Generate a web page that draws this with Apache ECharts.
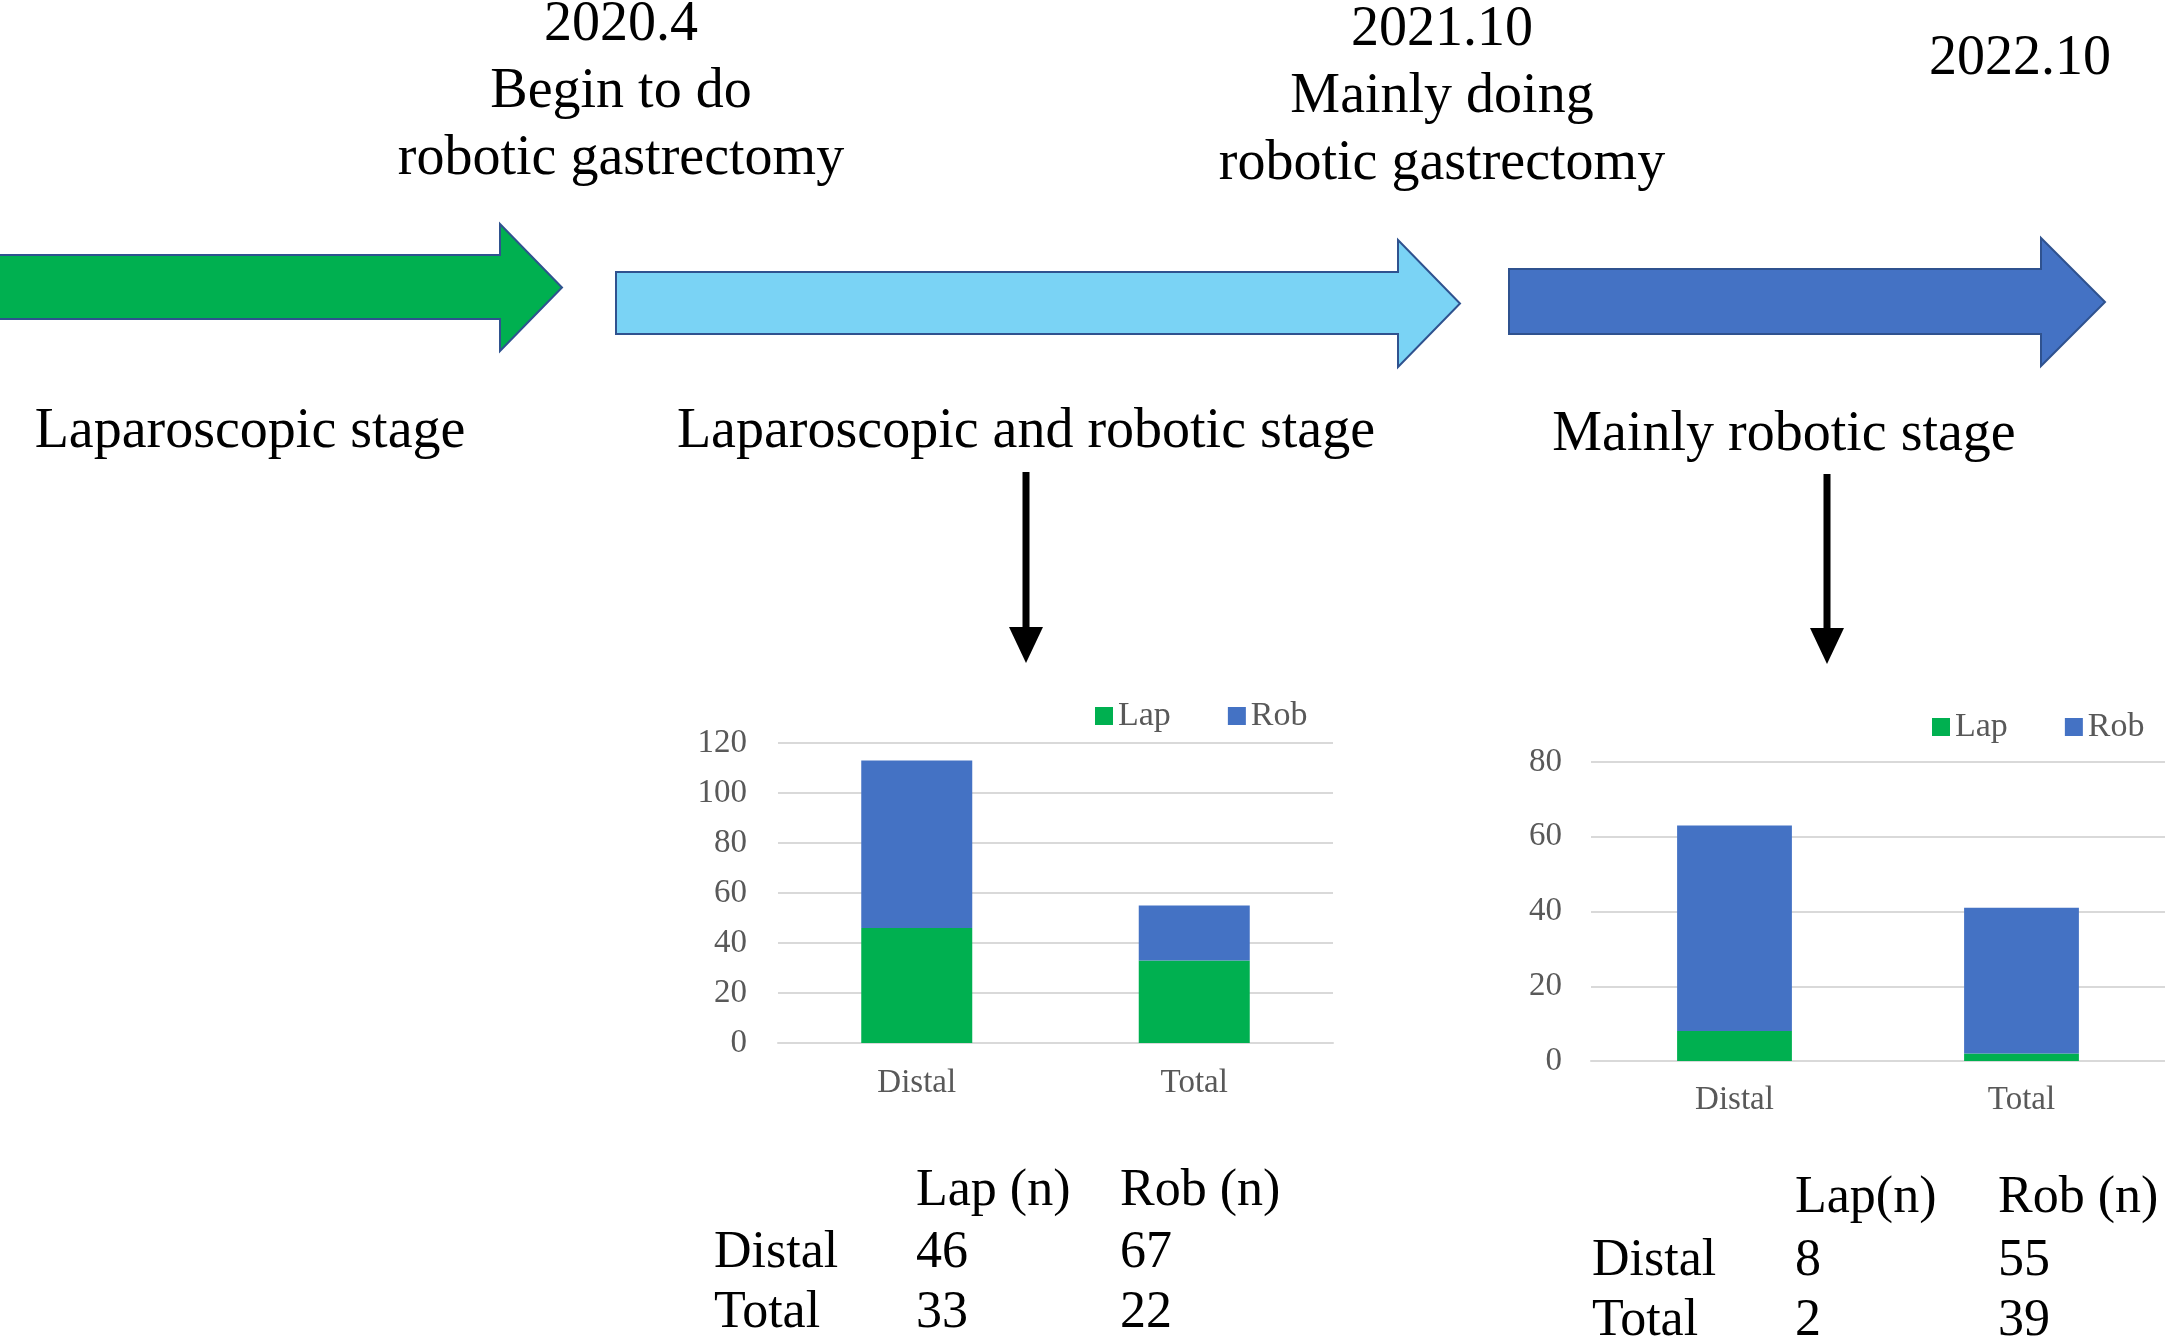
<!DOCTYPE html>
<html>
<head>
<meta charset="utf-8">
<script src="https://cdn.jsdelivr.net/npm/echarts@6/dist/echarts.min.js"></script>
<style>
html,body{margin:0;padding:0;background:#fff;}
#chart{width:2165px;height:1337px;}
</style>
</head>
<body>
<div id="chart"></div>
<script>
// ---- data ----
var categories = ['Distal', 'Total'];
var stage2Lap = [46, 33];
var stage2Rob = [67, 22];
var stage3Lap = [8, 2];
var stage3Rob = [55, 39];
var seriesNames = ['Lap', 'Rob'];
var stage2Axis = {min: 0, max: 120, interval: 20};
var stage3Axis = {min: 0, max: 80, interval: 20};
var stage2Headers = ['Lap (n)', 'Rob (n)'];
var stage3Headers = ['Lap(n)', 'Rob (n)'];
var milestones = [
  ['2020.4', 'Begin to do', 'robotic gastrectomy'],
  ['2021.10', 'Mainly doing', 'robotic gastrectomy'],
  ['2022.10']
];
var stageLabels = ['Laparoscopic stage', 'Laparoscopic and robotic stage', 'Mainly robotic stage'];

// ---- styles ----
var FONT = '"Liberation Serif", "Times New Roman", serif';
var GREEN = '#00B050', BLUE = '#4472C4', LIGHT = '#7AD3F5', EDGE = '#2F528F';
var GRAY_TXT = '#595959', GRID = '#D9D9D9';

var chart = echarts.init(document.getElementById('chart'), null, {renderer: 'canvas'});

function txt(s, x, y, size, align, color) {
  return {type: 'text', x: x, y: y, style: {text: s, fontSize: size, fontFamily: FONT, fill: color || '#000', align: align || 'center', verticalAlign: 'middle'}};
}
function bigArrow(x0, x1, sy0, sy1, hy0, hy1, tip, fill) {
  var cy = (hy0 + hy1) / 2;
  return {type: 'polygon', shape: {points: [[x0, sy0], [x1, sy0], [x1, hy0], [tip, cy], [x1, hy1], [x1, sy1], [x0, sy1]]},
    style: {fill: fill, stroke: EDGE, lineWidth: 2}};
}
function downArrow(x, y0, y1) {
  return [
    {type: 'line', shape: {x1: x, y1: y0, x2: x, y2: y1 - 30}, style: {stroke: '#000', lineWidth: 7}},
    {type: 'polygon', shape: {points: [[x - 17, y1 - 36], [x + 17, y1 - 36], [x, y1]]}, style: {fill: '#000'}}
  ];
}

var graphics = [];
// timeline arrows
graphics.push(bigArrow(-5, 500, 255, 319, 224, 351, 562, GREEN));
graphics.push(bigArrow(616, 1398, 272, 334, 240, 367, 1460, LIGHT));
graphics.push(bigArrow(1509, 2041, 269, 334, 238, 366, 2105, BLUE));
// milestone texts
var msPos = [[621, [25, 92, 159]], [1442, [30, 97, 164]], [2020, [59]]];
milestones.forEach(function (lines, i) {
  lines.forEach(function (l, j) { graphics.push(txt(l, msPos[i][0], msPos[i][1][j], 56)); });
});
// stage labels
var stPos = [[250, 432], [1026, 432], [1784, 435]];
stageLabels.forEach(function (s, i) { graphics.push(txt(s, stPos[i][0], stPos[i][1], 56)); });
// down arrows
graphics = graphics.concat(downArrow(1026, 472, 663));
graphics = graphics.concat(downArrow(1827, 474, 664));

// tables
function table(headers, lap, rob, xs, ys) {
  graphics.push(txt(headers[0], xs[1], ys[0], 52, 'left'));
  graphics.push(txt(headers[1], xs[2], ys[0], 52, 'left'));
  categories.forEach(function (c, i) {
    graphics.push(txt(c, xs[0], ys[i + 1], 52, 'left'));
    graphics.push(txt(String(lap[i]), xs[1], ys[i + 1], 52, 'left'));
    graphics.push(txt(String(rob[i]), xs[2], ys[i + 1], 52, 'left'));
  });
}
table(stage2Headers, stage2Lap, stage2Rob, [714, 916, 1120], [1191, 1253, 1313]);
table(stage3Headers, stage3Lap, stage3Rob, [1592, 1795, 1998], [1198, 1261, 1321]);

function xAxis(gi, margin) {
  return {type: 'category', gridIndex: gi, data: categories,
    axisLine: {lineStyle: {color: GRID, width: 2}}, axisTick: {show: false},
    axisLabel: {color: GRAY_TXT, fontFamily: FONT, fontSize: 33, margin: margin}};
}
function yAxis(gi, ax, margin) {
  return {type: 'value', gridIndex: gi, min: ax.min, max: ax.max, interval: ax.interval,
    axisLine: {show: false}, axisTick: {show: false},
    splitLine: {lineStyle: {color: GRID, width: 2}},
    axisLabel: {color: GRAY_TXT, fontFamily: FONT, fontSize: 33, margin: margin}};
}
function bar(name, data, gi, color) {
  return {type: 'bar', name: name, data: data, stack: 's' + gi, xAxisIndex: gi, yAxisIndex: gi,
    barWidth: '40%', itemStyle: {color: color}, emphasis: {disabled: true}};
}

var option = {
  animation: false,
  backgroundColor: '#fff',
  textStyle: {fontFamily: FONT},
  legend: [
    {data: seriesNames, left: 1090, top: 694, itemWidth: 18, itemHeight: 18, itemGap: 57, icon: 'rect',
      textStyle: {fontFamily: FONT, fontSize: 34, color: GRAY_TXT}},
    {data: seriesNames, left: 1927, top: 705, itemWidth: 18, itemHeight: 18, itemGap: 57, icon: 'rect',
      textStyle: {fontFamily: FONT, fontSize: 34, color: GRAY_TXT}}
  ],
  grid: [
    {left: 778, right: 832, top: 743, bottom: 294, containLabel: false},
    {left: 1591, right: 0, top: 762, bottom: 276, containLabel: false}
  ],
  xAxis: [xAxis(0, 24), xAxis(1, 23)],
  yAxis: [yAxis(0, stage2Axis, 31), yAxis(1, stage3Axis, 29)],
  series: [
    bar(seriesNames[0], stage2Lap, 0, GREEN),
    bar(seriesNames[1], stage2Rob, 0, BLUE),
    bar(seriesNames[0], stage3Lap, 1, GREEN),
    bar(seriesNames[1], stage3Rob, 1, BLUE)
  ],
  graphic: graphics
};
chart.setOption(option);
</script>
</body>
</html>
